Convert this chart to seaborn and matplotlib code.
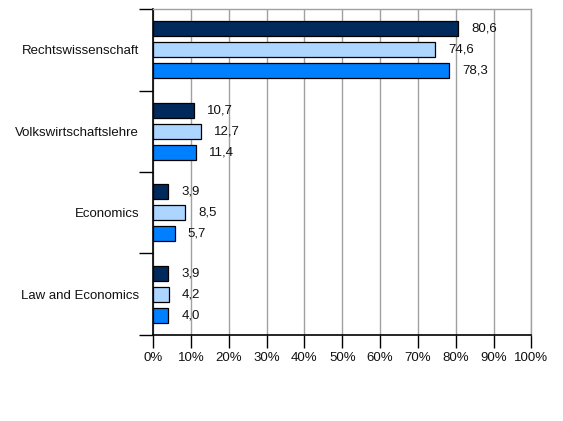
import pandas as pd
import numpy as np
import matplotlib
matplotlib.use('Agg')
import matplotlib.pyplot as plt
import seaborn as sns

# Daten aus dem Diagramm (Anteile in %)
faecher = ['Rechtswissenschaft', 'Volkswirtschaftslehre', 'Economics', 'Law and Economics']
reihen = ['Reihe 1', 'Reihe 2', 'Reihe 3']
werte_1 = [80.6, 10.7, 3.9, 3.9]
werte_2 = [74.6, 12.7, 8.5, 4.2]
werte_3 = [78.3, 11.4, 5.7, 4.0]
farben = ['#002a5c', '#acd5ff', '#0080ff']
x_ticks = list(range(0, 101, 10))

df = pd.DataFrame({
    'Fach': faecher * 3,
    'Reihe': [r for r in reihen for _ in faecher],
    'Wert': werte_1 + werte_2 + werte_3,
})

sns.set_style('white')
plt.rcParams['font.family'] = ['Liberation Sans', 'DejaVu Sans']
plt.rcParams['text.color'] = '#111111'
plt.rcParams['xtick.color'] = 'black'
plt.rcParams['ytick.color'] = 'black'

fig = plt.figure(figsize=(5.63, 4.21), dpi=100)
ax = fig.add_axes([0.2718, 0.2043, 0.944 - 0.2718, 0.9786 - 0.2043])

sns.barplot(data=df, y='Fach', x='Wert', hue='Reihe', order=faecher,
            hue_order=reihen, palette=farben, saturation=1, orient='h', width=0.78,
            gap=0.29, edgecolor='black', linewidth=0.9, legend=False, ax=ax)

# Wertebeschriftungen mit Dezimalkomma
for cont in ax.containers:
    ax.bar_label(cont, labels=[f'{v:.1f}'.replace('.', ',') for v in cont.datavalues],
                 padding=9.5, fontsize=9.5, color='#111111')

ax.set_xlim(0, 100)
ax.set_ylim(3.5, -0.5)
ax.set_xticks(x_ticks)
ax.set_xticklabels([f'{t}%' for t in x_ticks], fontsize=9.5)
ax.tick_params(axis='x', bottom=True, direction='out', length=9, width=1,
               color='black', labelcolor='#111111', pad=3)

# Kategorien: Striche an den Grenzen, Beschriftung in der Mitte
ax.set_yticks(range(len(faecher)))
ax.set_yticklabels(faecher, fontsize=9.5)
ax.set_yticks(np.arange(-0.5, len(faecher), 1), minor=True)
ax.tick_params(axis='y', which='major', left=True, length=0, pad=10, labelcolor='#111111')
ax.tick_params(axis='y', which='minor', left=True, direction='out', length=10,
               width=1, color='black')

ax.set_xlabel('')
ax.set_ylabel('')
ax.grid(axis='x', color='#a0a0a0', linewidth=1)
ax.set_axisbelow(True)

for s in ['left', 'bottom']:
    ax.spines[s].set_color('black')
    ax.spines[s].set_linewidth(1.2)
for s in ['top', 'right']:
    ax.spines[s].set_color('#a0a0a0')
    ax.spines[s].set_linewidth(1)

fig.savefig('out.png', dpi=100)
